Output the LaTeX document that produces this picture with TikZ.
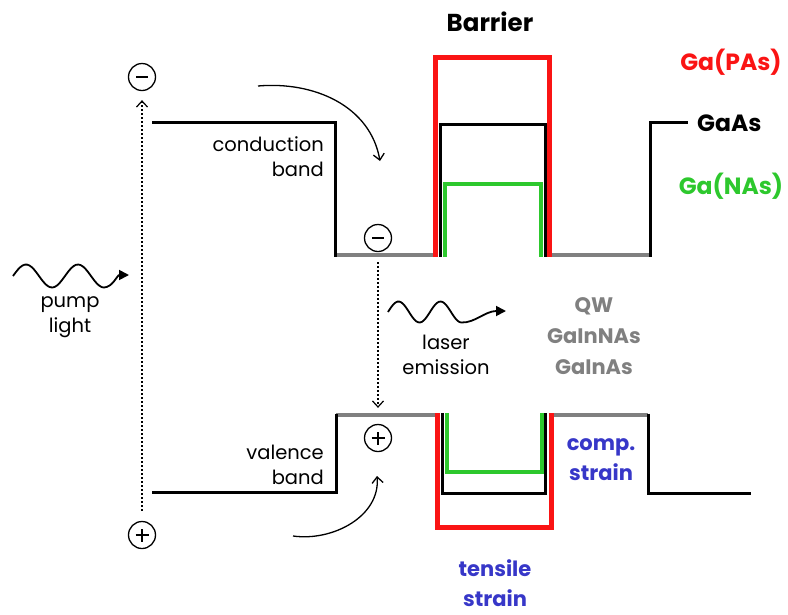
\documentclass[tikz,border=0pt]{standalone}
\usepackage{fontspec}
\setmainfont{Poppins}
\usetikzlibrary{arrows.meta}
\definecolor{bred}{RGB}{250,20,20}
\definecolor{bgreen}{RGB}{45,200,45}
\definecolor{bgray}{RGB}{128,128,128}
\definecolor{bblue}{RGB}{55,55,200}
\tikzset{
  blk/.style={line width=3pt,black,line join=miter},
  grayband/.style={line width=3.5pt,bgray},
  redband/.style={line width=5pt,bred,line join=miter},
  greenband/.style={line width=4.5pt,bgreen,line join=miter},
  carrier/.style={circle,draw,line width=1.3pt,minimum size=27pt,inner sep=0pt},
  minus/.style={carrier,path picture={\draw[line width=1.2pt] ([xshift=-6pt]path picture bounding box.center) -- ([xshift=6pt]path picture bounding box.center);}},
  plus/.style={carrier,path picture={\draw[line width=1.2pt] ([xshift=-6.5pt]path picture bounding box.center) -- ([xshift=6.5pt]path picture bounding box.center) ([yshift=-6.5pt]path picture bounding box.center) -- ([yshift=6.5pt]path picture bounding box.center);}},
  dotarrow/.style={line width=2.6pt,dash pattern=on 2.2pt off 1.8pt,-{Straight Barb[length=6pt,width=11pt,line width=1.2pt]}},
  curvearrow/.style={line width=1.3pt,-{Straight Barb[length=6pt,width=11pt]}},
  wavearrow/.style={line width=1.8pt,-{Triangle[length=10pt,width=10pt]}},
  lbl/.style={font=\fontsize{19.5}{25}\selectfont,align=center,inner sep=0pt},
  bigl/.style={font=\fontsize{23.5}{30}\selectfont\bfseries,align=center,inner sep=0pt},
}
\begin{document}
\begin{tikzpicture}[x=1pt,y=-1pt]
\useasboundingbox (0,0) rectangle (788,614);
% conduction band
\draw[grayband] (335,255) -- (437,255) (547,255) -- (650,255);
\draw[blk] (152,122) -- (335,122) -- (335,256.5);
\draw[blk] (650,256.5) -- (650,122) -- (688,122);
\draw[redband] (435,257) -- (435,57) -- (549,57) -- (549,257);
\draw[blk] (440,257) -- (440,124) -- (545,124) -- (545,257);
\draw[greenband] (445,257) -- (445,184) -- (541,184) -- (541,257);
% valence band
\draw[grayband] (336,415) -- (439,415) (549,415) -- (648,415);
\draw[blk] (152,492) -- (336,492) -- (336,413.5);
\draw[blk] (648,413.5) -- (648,493) -- (751,493);
\draw[redband] (437,413) -- (437,527) -- (551,527) -- (551,413);
\draw[blk] (442,413) -- (442,493) -- (545,493) -- (545,413);
\draw[greenband] (447,413) -- (447,472) -- (542,472) -- (542,413);
% carriers
\node[minus] (cmL) at (142,77) {};
\node[minus] (cmW) at (378,238) {};
\node[plus] (hpL) at (142,535) {};
\node[plus] (hpW) at (378,438) {};
% arrows
\draw[dotarrow,shorten <=10pt,shorten >=9pt] (hpL) -- (cmL);
\draw[dotarrow,shorten <=10pt,shorten >=16pt] (cmW) -- (hpW);
\coordinate (c1s) at (258,86);
\coordinate (c1e) at (380,161);
\draw[curvearrow] (c1s) to[out=5,in=100] (c1e);
\coordinate (c2s) at (293,536);
\coordinate (c2e) at (377,476);
\draw[curvearrow] (c2s) to[out=-8,in=-85] (c2e);
% waves
\coordinate (w1e) at (129,275);
\draw[wavearrow] plot[smooth,domain=0:91,samples=40] ({13+\x},{276-11.5*sin(\x*6.923)}) .. controls (113,287) and (117,275) .. (w1e);
\coordinate (w2e) at (506,311);
\draw[wavearrow] plot[smooth,domain=0:73.5,samples=40] ({388+\x},{312-10.5*sin(\x*8.571)}) .. controls (475,323) and (485,311) .. (w2e);
% labels
\node[lbl,align=right,anchor=east] (cb) at (324,157) {conduction\\band};
\node[lbl,align=right,anchor=east] (vb) at (324,465) {valence\\band};
\node[lbl] (pl) at (70,317) {pump\\light};
\node[lbl] (le) at (446,355) {laser\\emission};
\node[bigl,text=bgray,font=\fontsize{21}{31}\selectfont\bfseries] (qw) at (594,336) {QW\\GaInNAs\\GaInAs};
\node[bigl,text=bblue,font=\fontsize{21}{30}\selectfont\bfseries] (cs) at (601,460) {comp.\\strain};
\node[bigl,text=bblue,font=\fontsize{21}{30}\selectfont\bfseries] (ts) at (495,583) {tensile\\strain};
\node[bigl,font=\fontsize{24.5}{30}\selectfont\bfseries] (bar) at (490,22) {Barrier};
\node[bigl,text=bred] (gpas) at (731,62) {Ga(PAs)};
\node[bigl,anchor=west] (gaas) at (697,123) {GaAs};
\node[bigl,text=bgreen] (gnas) at (731,186) {Ga(NAs)};
\end{tikzpicture}
\end{document}
